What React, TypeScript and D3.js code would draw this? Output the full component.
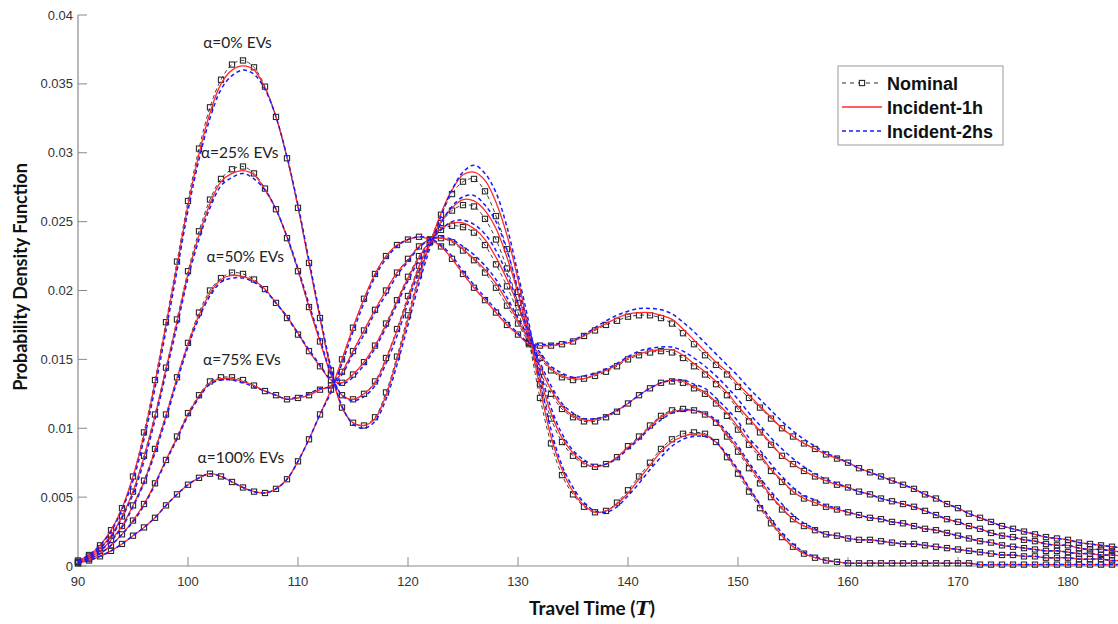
import React from "react";
import * as d3 from "d3";

// Travel-time grid (minutes), one sample per minute from 90 to 185
const travelTimes = d3.range(90, 186);

// ---- Nominal scenario ----
const nominal0 = [
  0.0004, 0.0008, 0.0015, 0.0026, 0.0042, 0.0065, 0.0097, 0.0135, 0.0177, 0.0221,
  0.0265, 0.0303, 0.0333, 0.0353, 0.0364, 0.0367, 0.0362, 0.0348, 0.0326, 0.0296,
  0.0260, 0.0220, 0.0180, 0.0142, 0.0115, 0.0104, 0.0102, 0.0108, 0.0126, 0.0152,
  0.0182, 0.0211, 0.0235, 0.0255, 0.0270, 0.0279, 0.0281, 0.0272, 0.0254, 0.0230,
  0.0199, 0.0163, 0.0122, 0.0089, 0.0066, 0.0052, 0.0043, 0.0039, 0.0040, 0.0046,
  0.0055, 0.0065, 0.0075, 0.0085, 0.0092, 0.0096, 0.0097, 0.0096, 0.0090, 0.0079,
  0.0067, 0.0054, 0.0042, 0.0031, 0.0021, 0.0014, 0.0009, 0.0006, 0.0004, 0.0003,
  0.0002, 0.0002, 0.0002, 0.0002, 0.0002, 0.0002, 0.0002, 0.0002, 0.0002, 0.0002,
  0.0002, 0.0002, 0.0001, 0.0001, 0.0001, 0.0001, 0.0001, 0.0001, 0.0001, 0.0001,
  0.0001, 0.0001, 0.0001, 0.0001, 0.0001, 0.0001,
];
const nominal25 = [
  0.0003, 0.0007, 0.0013, 0.0022, 0.0036, 0.0054, 0.0080, 0.0110, 0.0144, 0.0179,
  0.0214, 0.0243, 0.0266, 0.0281, 0.0288, 0.0290, 0.0285, 0.0274, 0.0259, 0.0238,
  0.0214, 0.0188, 0.0163, 0.0139, 0.0124, 0.0121, 0.0125, 0.0134, 0.0151, 0.0172,
  0.0196, 0.0218, 0.0236, 0.0249, 0.0258, 0.0262, 0.0261, 0.0252, 0.0237, 0.0216,
  0.0191, 0.0163, 0.0132, 0.0107, 0.0090, 0.0080, 0.0074, 0.0072, 0.0074, 0.0079,
  0.0087, 0.0094, 0.0102, 0.0109, 0.0113, 0.0114, 0.0113, 0.0110, 0.0104, 0.0094,
  0.0083, 0.0071, 0.0060, 0.0050, 0.0041, 0.0034, 0.0029, 0.0026, 0.0023, 0.0022,
  0.0020, 0.0019, 0.0019, 0.0018, 0.0017, 0.0016, 0.0016, 0.0015, 0.0014, 0.0013,
  0.0012, 0.0011, 0.0010, 0.0009, 0.0008, 0.0008, 0.0007, 0.0007, 0.0006, 0.0006,
  0.0006, 0.0005, 0.0005, 0.0005, 0.0004, 0.0004,
];
const nominal50 = [
  0.0003, 0.0006, 0.0011, 0.0019, 0.0029, 0.0044, 0.0062, 0.0085, 0.0110, 0.0137,
  0.0162, 0.0184, 0.0200, 0.0209, 0.0213, 0.0212, 0.0208, 0.0201, 0.0191, 0.0180,
  0.0168, 0.0156, 0.0145, 0.0135, 0.0133, 0.0139, 0.0148, 0.0160, 0.0176, 0.0193,
  0.0210, 0.0225, 0.0236, 0.0244, 0.0247, 0.0246, 0.0242, 0.0233, 0.0219, 0.0203,
  0.0184, 0.0162, 0.0141, 0.0125, 0.0114, 0.0108, 0.0105, 0.0105, 0.0108, 0.0112,
  0.0118, 0.0124, 0.0129, 0.0133, 0.0134, 0.0133, 0.0129, 0.0125, 0.0118, 0.0109,
  0.0099, 0.0088, 0.0079, 0.0069, 0.0061, 0.0054, 0.0049, 0.0046, 0.0043, 0.0041,
  0.0039, 0.0037, 0.0035, 0.0034, 0.0032, 0.0031, 0.0029, 0.0027, 0.0026, 0.0024,
  0.0022, 0.0020, 0.0018, 0.0017, 0.0015, 0.0014, 0.0013, 0.0012, 0.0011, 0.0011,
  0.0010, 0.0009, 0.0009, 0.0008, 0.0008, 0.0007,
];
const nominal75 = [
  0.0002, 0.0005, 0.0009, 0.0015, 0.0023, 0.0033, 0.0045, 0.0060, 0.0077, 0.0094,
  0.0111, 0.0124, 0.0134, 0.0137, 0.0137, 0.0135, 0.0131, 0.0127, 0.0124, 0.0121,
  0.0122, 0.0124, 0.0128, 0.0131, 0.0141, 0.0156, 0.0171, 0.0186, 0.0200, 0.0213,
  0.0223, 0.0232, 0.0237, 0.0238, 0.0235, 0.0229, 0.0222, 0.0213, 0.0202, 0.0189,
  0.0176, 0.0162, 0.0151, 0.0142, 0.0137, 0.0135, 0.0136, 0.0138, 0.0141, 0.0145,
  0.0150, 0.0153, 0.0155, 0.0156, 0.0155, 0.0151, 0.0145, 0.0139, 0.0132, 0.0124,
  0.0114, 0.0105, 0.0097, 0.0088, 0.0080, 0.0074, 0.0069, 0.0065, 0.0062, 0.0059,
  0.0057, 0.0054, 0.0052, 0.0049, 0.0047, 0.0045, 0.0043, 0.0040, 0.0037, 0.0034,
  0.0032, 0.0029, 0.0027, 0.0024, 0.0022, 0.0021, 0.0019, 0.0018, 0.0016, 0.0015,
  0.0015, 0.0013, 0.0012, 0.0012, 0.0011, 0.0010,
];
const nominal100 = [
  0.0002, 0.0004, 0.0007, 0.0011, 0.0016, 0.0022, 0.0028, 0.0035, 0.0044, 0.0052,
  0.0059, 0.0064, 0.0067, 0.0065, 0.0061, 0.0057, 0.0054, 0.0053, 0.0056, 0.0063,
  0.0076, 0.0092, 0.0110, 0.0128, 0.0150, 0.0173, 0.0194, 0.0212, 0.0225, 0.0233,
  0.0237, 0.0239, 0.0237, 0.0232, 0.0223, 0.0212, 0.0202, 0.0193, 0.0184, 0.0175,
  0.0168, 0.0161, 0.0160, 0.0160, 0.0161, 0.0163, 0.0167, 0.0171, 0.0175, 0.0178,
  0.0181, 0.0182, 0.0182, 0.0180, 0.0176, 0.0169, 0.0161, 0.0153, 0.0146, 0.0139,
  0.0130, 0.0122, 0.0115, 0.0107, 0.0100, 0.0094, 0.0089, 0.0085, 0.0081, 0.0078,
  0.0075, 0.0071, 0.0068, 0.0065, 0.0062, 0.0059, 0.0056, 0.0052, 0.0049, 0.0045,
  0.0042, 0.0038, 0.0035, 0.0032, 0.0029, 0.0027, 0.0025, 0.0023, 0.0021, 0.0020,
  0.0019, 0.0017, 0.0016, 0.0015, 0.0014, 0.0013,
];

// ---- Incident lasting 1 hour ----
const incident1h0 = [
  0.0004, 0.0008, 0.0015, 0.0026, 0.0042, 0.0065, 0.0095, 0.0133, 0.0175, 0.0218,
  0.0262, 0.0299, 0.0329, 0.0350, 0.0360, 0.0363, 0.0360, 0.0347, 0.0326, 0.0297,
  0.0261, 0.0220, 0.0180, 0.0142, 0.0115, 0.0104, 0.0102, 0.0107, 0.0124, 0.0150,
  0.0179, 0.0209, 0.0234, 0.0256, 0.0273, 0.0284, 0.0286, 0.0280, 0.0264, 0.0240,
  0.0208, 0.0170, 0.0129, 0.0094, 0.0070, 0.0054, 0.0044, 0.0039, 0.0040, 0.0045,
  0.0053, 0.0063, 0.0073, 0.0083, 0.0090, 0.0094, 0.0096, 0.0095, 0.0090, 0.0080,
  0.0069, 0.0056, 0.0044, 0.0032, 0.0022, 0.0014, 0.0009, 0.0006, 0.0004, 0.0003,
  0.0002, 0.0002, 0.0002, 0.0002, 0.0002, 0.0002, 0.0002, 0.0002, 0.0002, 0.0002,
  0.0002, 0.0002, 0.0001, 0.0001, 0.0001, 0.0001, 0.0001, 0.0001, 0.0001, 0.0001,
  0.0001, 0.0001, 0.0001, 0.0001, 0.0001, 0.0001,
];
const incident1h25 = [
  0.0003, 0.0007, 0.0013, 0.0022, 0.0036, 0.0054, 0.0079, 0.0109, 0.0143, 0.0177,
  0.0212, 0.0240, 0.0263, 0.0279, 0.0285, 0.0287, 0.0284, 0.0273, 0.0259, 0.0239,
  0.0215, 0.0188, 0.0163, 0.0139, 0.0124, 0.0121, 0.0125, 0.0133, 0.0150, 0.0171,
  0.0194, 0.0217, 0.0235, 0.0250, 0.0260, 0.0266, 0.0265, 0.0258, 0.0245, 0.0224,
  0.0198, 0.0168, 0.0137, 0.0111, 0.0093, 0.0082, 0.0075, 0.0072, 0.0074, 0.0079,
  0.0086, 0.0093, 0.0101, 0.0108, 0.0112, 0.0113, 0.0113, 0.0110, 0.0105, 0.0095,
  0.0085, 0.0073, 0.0062, 0.0051, 0.0042, 0.0034, 0.0029, 0.0026, 0.0023, 0.0022,
  0.0020, 0.0019, 0.0019, 0.0018, 0.0017, 0.0016, 0.0016, 0.0015, 0.0014, 0.0013,
  0.0012, 0.0011, 0.0010, 0.0009, 0.0008, 0.0008, 0.0007, 0.0007, 0.0006, 0.0006,
  0.0006, 0.0005, 0.0005, 0.0005, 0.0004, 0.0004,
];
const incident1h50 = [
  0.0003, 0.0006, 0.0011, 0.0019, 0.0029, 0.0044, 0.0061, 0.0084, 0.0109, 0.0136,
  0.0161, 0.0182, 0.0198, 0.0208, 0.0211, 0.0210, 0.0207, 0.0201, 0.0191, 0.0181,
  0.0169, 0.0156, 0.0145, 0.0135, 0.0133, 0.0139, 0.0148, 0.0160, 0.0175, 0.0192,
  0.0209, 0.0224, 0.0236, 0.0245, 0.0249, 0.0249, 0.0245, 0.0237, 0.0224, 0.0208,
  0.0189, 0.0166, 0.0145, 0.0128, 0.0116, 0.0109, 0.0106, 0.0106, 0.0109, 0.0113,
  0.0118, 0.0124, 0.0129, 0.0133, 0.0135, 0.0134, 0.0130, 0.0126, 0.0119, 0.0111,
  0.0101, 0.0090, 0.0081, 0.0070, 0.0062, 0.0054, 0.0049, 0.0046, 0.0043, 0.0041,
  0.0039, 0.0037, 0.0035, 0.0034, 0.0032, 0.0031, 0.0029, 0.0027, 0.0026, 0.0024,
  0.0022, 0.0020, 0.0018, 0.0017, 0.0015, 0.0014, 0.0013, 0.0012, 0.0011, 0.0011,
  0.0010, 0.0009, 0.0009, 0.0008, 0.0008, 0.0007,
];
const incident1h75 = [
  0.0002, 0.0005, 0.0009, 0.0015, 0.0023, 0.0033, 0.0045, 0.0060, 0.0077, 0.0093,
  0.0110, 0.0123, 0.0133, 0.0136, 0.0136, 0.0134, 0.0131, 0.0127, 0.0124, 0.0121,
  0.0122, 0.0124, 0.0128, 0.0131, 0.0141, 0.0156, 0.0171, 0.0186, 0.0200, 0.0213,
  0.0222, 0.0232, 0.0237, 0.0238, 0.0236, 0.0230, 0.0223, 0.0215, 0.0205, 0.0192,
  0.0178, 0.0164, 0.0153, 0.0143, 0.0138, 0.0136, 0.0136, 0.0139, 0.0142, 0.0146,
  0.0151, 0.0154, 0.0156, 0.0157, 0.0157, 0.0153, 0.0147, 0.0141, 0.0134, 0.0126,
  0.0116, 0.0107, 0.0098, 0.0089, 0.0080, 0.0074, 0.0069, 0.0065, 0.0062, 0.0059,
  0.0057, 0.0054, 0.0052, 0.0049, 0.0047, 0.0045, 0.0043, 0.0040, 0.0037, 0.0034,
  0.0032, 0.0029, 0.0027, 0.0024, 0.0022, 0.0021, 0.0019, 0.0018, 0.0016, 0.0015,
  0.0015, 0.0013, 0.0012, 0.0012, 0.0011, 0.0010,
];
const incident1h100 = [
  0.0002, 0.0004, 0.0007, 0.0011, 0.0016, 0.0022, 0.0028, 0.0035, 0.0044, 0.0052,
  0.0059, 0.0064, 0.0067, 0.0065, 0.0061, 0.0057, 0.0054, 0.0053, 0.0056, 0.0063,
  0.0076, 0.0092, 0.0110, 0.0128, 0.0150, 0.0173, 0.0194, 0.0212, 0.0225, 0.0233,
  0.0237, 0.0239, 0.0237, 0.0232, 0.0223, 0.0212, 0.0202, 0.0193, 0.0184, 0.0175,
  0.0168, 0.0161, 0.0160, 0.0160, 0.0161, 0.0163, 0.0167, 0.0172, 0.0176, 0.0180,
  0.0183, 0.0184, 0.0184, 0.0182, 0.0179, 0.0172, 0.0164, 0.0156, 0.0148, 0.0141,
  0.0132, 0.0124, 0.0116, 0.0108, 0.0100, 0.0094, 0.0089, 0.0085, 0.0081, 0.0078,
  0.0075, 0.0071, 0.0068, 0.0065, 0.0062, 0.0059, 0.0056, 0.0052, 0.0049, 0.0045,
  0.0042, 0.0038, 0.0035, 0.0032, 0.0029, 0.0027, 0.0025, 0.0023, 0.0021, 0.0020,
  0.0019, 0.0017, 0.0016, 0.0015, 0.0014, 0.0013,
];

// ---- Incident lasting 2 hours ----
const incident2hs0 = [
  0.0004, 0.0008, 0.0015, 0.0025, 0.0041, 0.0062, 0.0092, 0.0129, 0.0171, 0.0214,
  0.0258, 0.0295, 0.0325, 0.0346, 0.0356, 0.0360, 0.0357, 0.0346, 0.0326, 0.0297,
  0.0262, 0.0222, 0.0182, 0.0144, 0.0116, 0.0103, 0.0100, 0.0105, 0.0121, 0.0146,
  0.0175, 0.0205, 0.0231, 0.0254, 0.0273, 0.0286, 0.0291, 0.0285, 0.0271, 0.0246,
  0.0212, 0.0176, 0.0135, 0.0099, 0.0073, 0.0057, 0.0046, 0.0040, 0.0039, 0.0043,
  0.0051, 0.0060, 0.0070, 0.0079, 0.0087, 0.0092, 0.0094, 0.0094, 0.0090, 0.0081,
  0.0070, 0.0057, 0.0045, 0.0034, 0.0024, 0.0016, 0.0010, 0.0007, 0.0004, 0.0003,
  0.0002, 0.0002, 0.0002, 0.0002, 0.0002, 0.0002, 0.0002, 0.0002, 0.0002, 0.0002,
  0.0002, 0.0002, 0.0001, 0.0001, 0.0001, 0.0001, 0.0001, 0.0001, 0.0001, 0.0001,
  0.0001, 0.0001, 0.0001, 0.0001, 0.0001, 0.0001,
];
const incident2hs25 = [
  0.0003, 0.0007, 0.0013, 0.0021, 0.0035, 0.0052, 0.0076, 0.0106, 0.0140, 0.0174,
  0.0209, 0.0237, 0.0260, 0.0276, 0.0282, 0.0285, 0.0281, 0.0273, 0.0259, 0.0239,
  0.0216, 0.0190, 0.0165, 0.0140, 0.0124, 0.0120, 0.0123, 0.0131, 0.0147, 0.0167,
  0.0191, 0.0214, 0.0233, 0.0249, 0.0261, 0.0268, 0.0269, 0.0262, 0.0250, 0.0229,
  0.0201, 0.0173, 0.0142, 0.0115, 0.0096, 0.0084, 0.0077, 0.0073, 0.0074, 0.0078,
  0.0085, 0.0092, 0.0100, 0.0106, 0.0111, 0.0113, 0.0113, 0.0111, 0.0106, 0.0097,
  0.0087, 0.0075, 0.0064, 0.0054, 0.0045, 0.0037, 0.0031, 0.0027, 0.0023, 0.0022,
  0.0020, 0.0019, 0.0019, 0.0018, 0.0017, 0.0016, 0.0016, 0.0015, 0.0014, 0.0013,
  0.0012, 0.0011, 0.0010, 0.0009, 0.0008, 0.0008, 0.0007, 0.0007, 0.0006, 0.0006,
  0.0006, 0.0005, 0.0005, 0.0005, 0.0004, 0.0004,
];
const incident2hs50 = [
  0.0003, 0.0006, 0.0011, 0.0018, 0.0028, 0.0043, 0.0060, 0.0082, 0.0107, 0.0134,
  0.0159, 0.0180, 0.0196, 0.0206, 0.0209, 0.0209, 0.0206, 0.0200, 0.0191, 0.0181,
  0.0169, 0.0157, 0.0146, 0.0135, 0.0132, 0.0137, 0.0146, 0.0158, 0.0173, 0.0190,
  0.0207, 0.0222, 0.0235, 0.0244, 0.0250, 0.0251, 0.0248, 0.0241, 0.0229, 0.0212,
  0.0191, 0.0169, 0.0148, 0.0131, 0.0118, 0.0111, 0.0107, 0.0107, 0.0109, 0.0113,
  0.0118, 0.0124, 0.0129, 0.0133, 0.0135, 0.0135, 0.0132, 0.0129, 0.0122, 0.0114,
  0.0105, 0.0093, 0.0084, 0.0074, 0.0065, 0.0057, 0.0051, 0.0048, 0.0044, 0.0042,
  0.0039, 0.0037, 0.0035, 0.0034, 0.0032, 0.0031, 0.0029, 0.0027, 0.0026, 0.0024,
  0.0022, 0.0020, 0.0018, 0.0017, 0.0015, 0.0014, 0.0013, 0.0012, 0.0011, 0.0011,
  0.0010, 0.0009, 0.0009, 0.0008, 0.0008, 0.0007,
];
const incident2hs75 = [
  0.0002, 0.0005, 0.0009, 0.0015, 0.0023, 0.0032, 0.0044, 0.0059, 0.0076, 0.0092,
  0.0109, 0.0122, 0.0132, 0.0135, 0.0135, 0.0133, 0.0130, 0.0127, 0.0124, 0.0121,
  0.0123, 0.0125, 0.0129, 0.0130, 0.0139, 0.0154, 0.0168, 0.0184, 0.0197, 0.0211,
  0.0221, 0.0231, 0.0237, 0.0239, 0.0237, 0.0232, 0.0226, 0.0218, 0.0208, 0.0195,
  0.0180, 0.0166, 0.0155, 0.0145, 0.0140, 0.0137, 0.0138, 0.0140, 0.0143, 0.0147,
  0.0152, 0.0156, 0.0158, 0.0159, 0.0159, 0.0156, 0.0151, 0.0145, 0.0138, 0.0130,
  0.0121, 0.0111, 0.0102, 0.0093, 0.0085, 0.0078, 0.0072, 0.0067, 0.0063, 0.0060,
  0.0057, 0.0054, 0.0052, 0.0049, 0.0047, 0.0045, 0.0043, 0.0040, 0.0037, 0.0034,
  0.0032, 0.0029, 0.0027, 0.0024, 0.0022, 0.0021, 0.0019, 0.0018, 0.0016, 0.0015,
  0.0015, 0.0013, 0.0012, 0.0012, 0.0011, 0.0010,
];
const incident2hs100 = [
  0.0002, 0.0004, 0.0007, 0.0011, 0.0016, 0.0022, 0.0028, 0.0035, 0.0044, 0.0052,
  0.0059, 0.0064, 0.0067, 0.0065, 0.0061, 0.0057, 0.0054, 0.0053, 0.0056, 0.0063,
  0.0076, 0.0092, 0.0110, 0.0126, 0.0147, 0.0170, 0.0191, 0.0210, 0.0223, 0.0232,
  0.0237, 0.0239, 0.0238, 0.0233, 0.0225, 0.0214, 0.0204, 0.0195, 0.0186, 0.0177,
  0.0169, 0.0162, 0.0161, 0.0161, 0.0162, 0.0164, 0.0168, 0.0173, 0.0178, 0.0182,
  0.0185, 0.0187, 0.0187, 0.0186, 0.0183, 0.0177, 0.0170, 0.0162, 0.0154, 0.0146,
  0.0138, 0.0129, 0.0121, 0.0113, 0.0105, 0.0098, 0.0092, 0.0087, 0.0082, 0.0079,
  0.0075, 0.0071, 0.0068, 0.0065, 0.0062, 0.0059, 0.0056, 0.0052, 0.0049, 0.0045,
  0.0042, 0.0038, 0.0035, 0.0032, 0.0029, 0.0027, 0.0025, 0.0023, 0.0021, 0.0020,
  0.0019, 0.0017, 0.0016, 0.0015, 0.0014, 0.0013,
];

const evShareLabels = ["α=0% EVs", "α=25% EVs", "α=50% EVs", "α=75% EVs", "α=100% EVs"];
const nominalSeries = [nominal0, nominal25, nominal50, nominal75, nominal100];
const incident1hSeries = [incident1h0, incident1h25, incident1h50, incident1h75, incident1h100];
const incident2hsSeries = [incident2hs0, incident2hs25, incident2hs50, incident2hs75, incident2hs100];

const xTicks = [90, 100, 110, 120, 130, 140, 150, 160, 170, 180];
const yTicks = [0, 0.005, 0.01, 0.015, 0.02, 0.025, 0.03, 0.035, 0.04];
const legendLabels = ["Nominal", "Incident-1h", "Incident-2hs"];

// label anchor points in data units (travel time, density)
const labelAnchors: [number, number][] = [
  [104.5, 0.0376],
  [104.7, 0.0296],
  [105.2, 0.0221],
  [104.9, 0.0146],
  [104.8, 0.0075],
];

const WIDTH = 1118;
const HEIGHT = 624;
const AXIS_COLOR = "#8a8a8a";
const TICK_TEXT = "#333333";
const NOMINAL_COLOR = "#2b2b2b";
const RED = "#ff2a2a";
const BLUE = "#1a1aff";

export default function App() {
  const x = d3.scaleLinear().domain([90, 185]).range([78, 1123]);
  const y = d3.scaleLinear().domain([0, 0.04]).range([566, 15]);

  const line = d3
    .line<number>()
    .x((_, i) => x(travelTimes[i]))
    .y((d) => y(d))
    .curve(d3.curveCatmullRom.alpha(0.5));

  const tickFont = "'Liberation Sans', Arial, sans-serif";
  const titleFont = "Lato, 'Open Sans', sans-serif";

  return (
    <svg
      width={WIDTH}
      height={HEIGHT}
      style={{ position: "absolute", left: 0, top: 0, background: "#fff" }}
    >
      <rect x={0} y={0} width={WIDTH} height={HEIGHT} fill="#fff" />

      {/* axes */}
      <line x1={x(90)} x2={WIDTH} y1={y(0)} y2={y(0)} stroke={AXIS_COLOR} strokeWidth={1.2} />
      <line x1={x(90)} x2={x(90)} y1={y(0)} y2={y(0.04)} stroke={AXIS_COLOR} strokeWidth={1.2} />
      {yTicks.map((t) => (
        <g key={"y" + t}>
          <line x1={x(90)} x2={x(90) + 9} y1={y(t)} y2={y(t)} stroke={AXIS_COLOR} strokeWidth={1} />
          <text
            x={x(90) - 5}
            y={y(t)}
            dy="0.35em"
            textAnchor="end"
            fontFamily={tickFont}
            fontSize={13}
            fill={TICK_TEXT}
          >
            {t === 0 ? "0" : String(t)}
          </text>
        </g>
      ))}
      {xTicks.map((t) => (
        <g key={"x" + t}>
          <line x1={x(t)} x2={x(t)} y1={y(0)} y2={y(0) - 9} stroke={AXIS_COLOR} strokeWidth={1} />
          <text
            x={x(t)}
            y={586}
            textAnchor="middle"
            fontFamily={tickFont}
            fontSize={13}
            fill={TICK_TEXT}
          >
            {t}
          </text>
        </g>
      ))}

      {/* nominal curves with square markers */}
      {nominalSeries.map((s, k) => (
        <g key={"n" + k}>
          <path d={line(s) || ""} fill="none" stroke={NOMINAL_COLOR} strokeWidth={0.9} strokeDasharray="4,3" />
          {s.map((v, i) => (
            <rect
              key={i}
              x={x(travelTimes[i]) - 2.6}
              y={y(v) - 2.6}
              width={5.2}
              height={5.2}
              fill="none"
              stroke={NOMINAL_COLOR}
              strokeWidth={1.1}
            />
          ))}
        </g>
      ))}

      {/* incident 1h */}
      {incident1hSeries.map((s, k) => (
        <path key={"r" + k} d={line(s) || ""} fill="none" stroke={RED} strokeWidth={1.3} />
      ))}

      {/* incident 2hs */}
      {incident2hsSeries.map((s, k) => (
        <path
          key={"b" + k}
          d={line(s) || ""}
          fill="none"
          stroke={BLUE}
          strokeWidth={1.5}
          strokeDasharray="4,3"
        />
      ))}

      {/* EV share labels */}
      {evShareLabels.map((lab, k) => (
        <text
          key={"l" + k}
          x={x(labelAnchors[k][0])}
          y={y(labelAnchors[k][1])}
          textAnchor="middle"
          fontFamily={titleFont}
          fontSize={15.5}
          fill="#222"
        >
          {lab}
        </text>
      ))}

      {/* axis titles */}
      <text
        x={592}
        y={615}
        textAnchor="middle"
        fontFamily={titleFont}
        fontWeight="bold"
        fontSize={19}
        fill="#111"
      >
        Travel Time (
        <tspan fontFamily="'DejaVu Serif', 'Liberation Serif', serif" fontStyle="italic">
          T
        </tspan>
        )
      </text>
      <text
        transform="translate(27,277) rotate(-90)"
        textAnchor="middle"
        fontFamily={titleFont}
        fontWeight="bold"
        fontSize={18}
        fill="#111"
      >
        Probability Density Function
      </text>

      {/* legend */}
      <g>
        <rect x={838} y={66} width={165} height={79} fill="#fff" stroke="#9a9a9a" strokeWidth={1} />
        {legendLabels.map((lab, k) => {
          const ly = 83 + k * 24;
          return (
            <g key={"lg" + k}>
              {k === 0 && (
                <>
                  <line x1={842} x2={882} y1={ly} y2={ly} stroke={NOMINAL_COLOR} strokeWidth={1} strokeDasharray="4,4" />
                  <rect x={859.4} y={ly - 2.6} width={5.2} height={5.2} fill="#fff" stroke={NOMINAL_COLOR} strokeWidth={1.1} />
                </>
              )}
              {k === 1 && <line x1={842} x2={882} y1={ly} y2={ly} stroke={RED} strokeWidth={1.5} />}
              {k === 2 && (
                <line x1={842} x2={882} y1={ly} y2={ly} stroke={BLUE} strokeWidth={1.5} strokeDasharray="4,3" />
              )}
              <text
                x={887}
                y={ly + 6.5}
                fontFamily={tickFont}
                fontWeight="bold"
                fontSize={18}
                fill="#111"
              >
                {lab}
              </text>
            </g>
          );
        })}
      </g>
    </svg>
  );
}
